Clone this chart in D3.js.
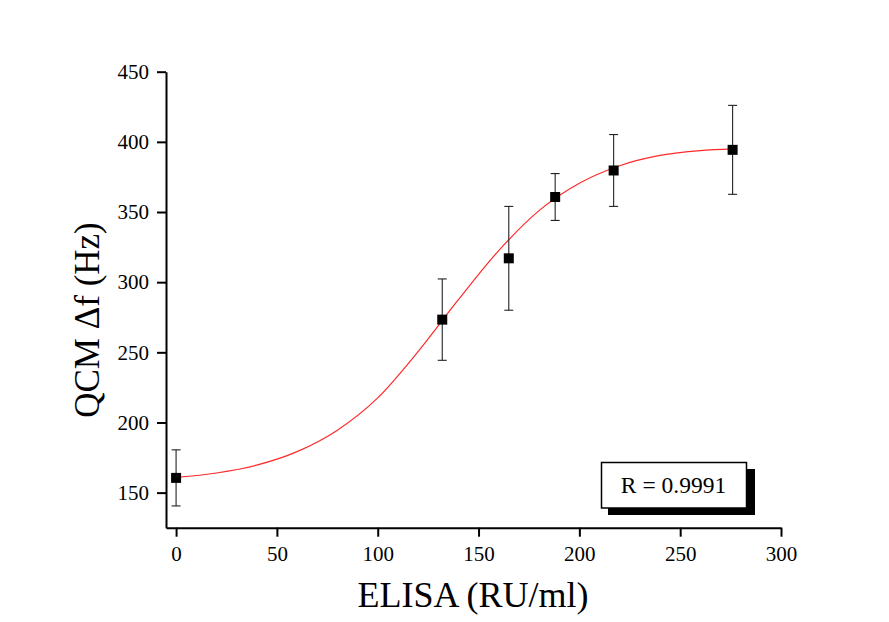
<!DOCTYPE html>
<html>
<head>
<meta charset="utf-8">
<script src="https://cdn.jsdelivr.net/npm/d3@7"></script>
<style>
  html, body { margin: 0; padding: 0; background: #fff; }
  svg { display: block; }
  text { font-family: "Liberation Serif", "Times New Roman", serif; fill: #000; }
</style>
</head>
<body>
<svg id="chart" width="889" height="622"></svg>
<script>
// ---- data ----
const elisa = [0, 132, 165, 188, 217, 276];
const qcm = [160.5, 273.3, 317, 360.7, 379.6, 394.3];
const qcmErr = [20, 29, 37, 16.7, 25.6, 31.7];
const fitX = [0, 20, 40, 60, 80, 100, 120, 140, 160, 180, 200, 220, 240, 260, 276];
const fitY = [160.8, 164.0, 169.6, 179.2, 194.5, 217.5, 250.5, 287.5, 322.5, 351.0, 370.5, 383.0, 390.3, 393.8, 395.0];
const xTicks = [0, 50, 100, 150, 200, 250, 300];
const yTicks = [150, 200, 250, 300, 350, 400, 450];
const xTitle = "ELISA (RU/ml)";
const yTitle = "QCM \u0394f (Hz)";
const rLabel = "R = 0.9991";

// ---- layout ----
const svg = d3.select("#chart");
const x = d3.scaleLinear().domain([-5, 300]).range([166, 781]);
const y = d3.scaleLinear().domain([125, 450]).range([527.7, 71.7]);

// fit curve
svg.append("path")
  .datum(fitX.map((v, i) => [v, fitY[i]]))
  .attr("fill", "none")
  .attr("stroke", "#ff2a2a")
  .attr("stroke-width", 1.2)
  .attr("d", d3.line().x(d => x(d[0])).y(d => y(d[1])).curve(d3.curveMonotoneX));

// error bars
const eb = svg.append("g").attr("stroke", "#222").attr("stroke-width", 1.1);
elisa.forEach((v, i) => {
  const cx = x(v);
  eb.append("line").attr("x1", cx).attr("x2", cx)
    .attr("y1", y(qcm[i] - qcmErr[i])).attr("y2", y(qcm[i] + qcmErr[i]));
  [qcm[i] - qcmErr[i], qcm[i] + qcmErr[i]].forEach(e => {
    eb.append("line").attr("x1", cx - 4.5).attr("x2", cx + 4.5)
      .attr("y1", y(e)).attr("y2", y(e));
  });
});

// markers
svg.append("g").selectAll("rect").data(elisa).join("rect")
  .attr("x", d => x(d) - 5)
  .attr("y", (d, i) => y(qcm[i]) - 5)
  .attr("width", 10).attr("height", 10)
  .attr("fill", "#000");

// axes
const xAxis = svg.append("g")
  .attr("transform", `translate(0,${y(125)})`)
  .call(d3.axisBottom(x).tickValues(xTicks).tickSize(9).tickPadding(9).tickSizeOuter(0));
const yAxis = svg.append("g")
  .attr("transform", `translate(${x(-5)},0)`)
  .call(d3.axisLeft(y).tickValues(yTicks).tickSize(9).tickPadding(8).tickSizeOuter(0));
[xAxis, yAxis].forEach(g => {
  g.select(".domain").attr("stroke", "#000").attr("stroke-width", 2);
  g.selectAll(".tick line").attr("stroke", "#000").attr("stroke-width", 2);
  g.selectAll(".tick text")
    .style("font-family", "'Liberation Serif', 'Times New Roman', serif")
    .style("font-size", "21px").attr("fill", "#000");
});

// axis titles
svg.append("text")
  .attr("x", 473).attr("y", 607)
  .attr("text-anchor", "middle")
  .style("font-size", "36px")
  .text(xTitle);
svg.append("text")
  .attr("transform", "translate(99,320) rotate(-90)")
  .attr("text-anchor", "middle")
  .style("font-size", "35px")
  .text(yTitle);

// R box
svg.append("rect").attr("x", 608).attr("y", 469).attr("width", 147).attr("height", 46).attr("fill", "#000");
svg.append("rect").attr("x", 601.5).attr("y", 462.5).attr("width", 145).attr("height", 45.5)
  .attr("fill", "#fff").attr("stroke", "#000").attr("stroke-width", 1.5);
svg.append("text")
  .attr("x", 673.5).attr("y", 493)
  .attr("text-anchor", "middle")
  .style("font-size", "23.5px")
  .text(rLabel);
</script>
</body>
</html>
